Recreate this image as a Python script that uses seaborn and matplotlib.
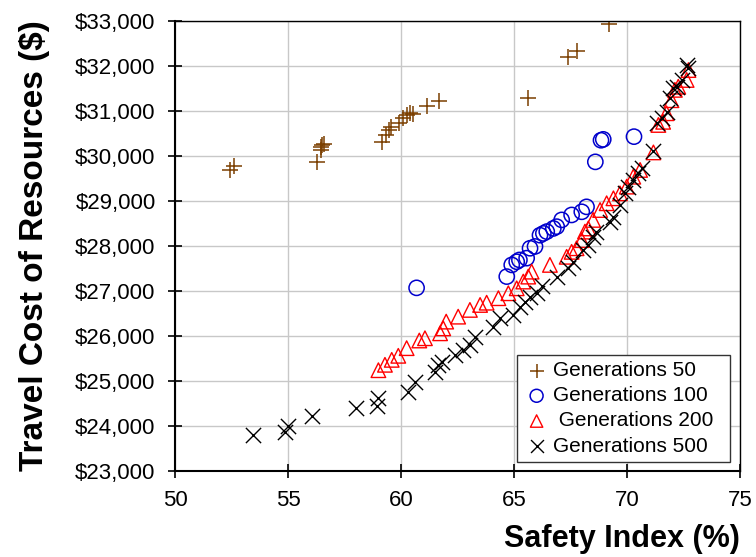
import numpy as np
import pandas as pd
import matplotlib
matplotlib.use('Agg')
import matplotlib.pyplot as plt
import seaborn as sns
from matplotlib.ticker import FuncFormatter

# Generations 50 (brown plus)
g50_x = [52.43, 52.6, 56.27, 56.46, 56.5, 56.6, 56.45, 59.15, 59.34, 59.48, 59.56, 59.93,
         60.1, 60.25, 60.4, 60.55, 61.14, 61.70, 65.63, 67.40, 67.77, 69.22]
g50_y = [29690, 29780, 29860, 30210, 30240, 30270, 30130, 30320, 30470, 30580, 30650, 30730,
         30840, 30910, 30950, 30930, 31110, 31230, 31280, 32210, 32340, 32930]

# Generations 100 (blue circles)
g100_x = [60.69, 64.68, 64.9, 65.12, 65.24, 65.56, 65.71, 65.93, 66.15, 66.3, 66.45, 66.74,
          66.89, 67.11, 67.55, 68.0, 68.21, 68.6, 68.85, 68.95, 70.31]
g100_y = [27070, 27320, 27580, 27650, 27690, 27730, 27950, 27990, 28240, 28280, 28320, 28390,
          28430, 28580, 28690, 28760, 28870, 29870, 30350, 30370, 30430]

# Generations 200 (red triangles)
g200_x = [59.0, 59.29, 59.59, 59.88, 60.25, 60.81, 61.06, 61.73, 61.87, 62.0, 62.53, 63.05,
          63.5, 63.79, 64.31, 64.75, 65.12, 65.41, 65.63, 65.78, 66.59, 67.33, 67.55, 67.77,
          68.0, 68.14, 68.29, 68.5, 68.81, 69.1, 69.4, 69.69, 69.99, 70.28, 70.58, 71.17,
          71.39, 71.6, 71.75, 71.97, 72.12, 72.27, 72.64, 72.72]
g200_y = [25240, 25360, 25470, 25560, 25730, 25900, 25950, 26060, 26170, 26320, 26430, 26580,
          26690, 26740, 26840, 26950, 27060, 27210, 27320, 27430, 27580, 27760, 27870, 27950,
          28130, 28320, 28390, 28580, 28800, 28950, 29060, 29170, 29320, 29540, 29690, 30080,
          30690, 30760, 30950, 31240, 31470, 31540, 31690, 31910]

# Generations 500 (black x)
g500_x = [53.44, 54.87, 55.01, 56.05, 58.0, 58.92, 59.0, 60.32, 60.62, 61.5, 61.65, 61.8,
          62.39, 62.76, 63.05, 63.27, 64.08, 64.38, 64.96, 65.27, 65.49, 65.71, 66.0, 66.23,
          66.89, 67.41, 67.63, 68.07, 68.29, 68.51, 68.65, 69.25, 69.4, 69.69, 69.91, 70.06,
          70.28, 70.5, 70.65, 71.17, 71.31, 71.53, 71.75, 71.9, 72.05, 72.2, 72.42, 72.72, 72.64]
g500_y = [23800, 23870, 24010, 24230, 24390, 24450, 24620, 24760, 24980, 25210, 25360, 25430,
          25580, 25690, 25800, 25980, 26210, 26390, 26470, 26650, 26760, 26870, 26950, 27100,
          27320, 27500, 27650, 27910, 28020, 28210, 28320, 28540, 28650, 28910, 29170, 29320,
          29470, 29620, 29730, 30100, 30730, 30840, 30980, 31280, 31500, 31540, 31690, 31950, 32020]

x_ticks = [50, 55, 60, 65, 70, 75]
y_ticks = list(range(23000, 33001, 1000))

sns.set_style('whitegrid')
plt.rcParams['font.family'] = ['Liberation Sans', 'DejaVu Sans']
plt.rcParams['text.color'] = 'black'

fig = plt.figure(figsize=(7.56, 5.57), dpi=100)
ax = fig.add_axes([0.2315, 0.1544, 0.7473, 0.8079])

sns.scatterplot(x=g50_x, y=g50_y, marker='+', s=130, color='#7B3F00', linewidth=1.1,
                label='Generations 50', ax=ax)
sns.scatterplot(x=g100_x, y=g100_y, marker='o', s=120, facecolor='none', edgecolor='#0000CC',
                linewidth=1.1, label='Generations 100', ax=ax)
sns.scatterplot(x=g200_x, y=g200_y, marker='^', s=110, facecolor='none', edgecolor='#FF0000',
                linewidth=1.0, label=' Generations 200', ax=ax)
sns.scatterplot(x=g500_x, y=g500_y, marker='x', s=120, color='black', linewidth=1.0,
                label='Generations 500', ax=ax)

ax.set_xlim(50, 75)
ax.set_ylim(23000, 33000)
ax.set_xticks(x_ticks)
ax.set_yticks(y_ticks)
ax.yaxis.set_major_formatter(FuncFormatter(lambda v, p: f'${v:,.0f}'))
ax.grid(True, color='#C8C8C8', linewidth=1.0)
for s in ax.spines.values():
    s.set_visible(True)
    s.set_color('black')
    s.set_linewidth(1.0)
ax.spines['left'].set_linewidth(1.5)
ax.spines['bottom'].set_linewidth(1.5)
ax.tick_params(axis='both', direction='inout', length=10, width=1.2, color='black',
               labelcolor='black', labelsize=16, left=True, bottom=True)
ax.tick_params(axis='y', pad=9)
ax.tick_params(axis='x', pad=9)

ax.set_xlabel('Safety Index (%)', fontsize=22, fontweight='bold', loc='right', labelpad=9,
              color='black')
ax.set_ylabel('Travel Cost of Resources ($)', fontsize=24, fontweight='bold', labelpad=18,
              color='black')

leg = ax.legend(loc='lower left', bbox_to_anchor=(0.605, 0.02, 0.377, 0.24), mode='expand',
                borderaxespad=0, fontsize=15, frameon=True, fancybox=False, framealpha=1,
                edgecolor='#333333', handletextpad=0.15, labelspacing=0.3, borderpad=0.3,
                handlelength=1.3, markerscale=0.85)
leg.get_frame().set_linewidth(1.0)
for t in leg.get_texts():
    t.set_color('black')

fig.savefig('out.png', dpi=100)
